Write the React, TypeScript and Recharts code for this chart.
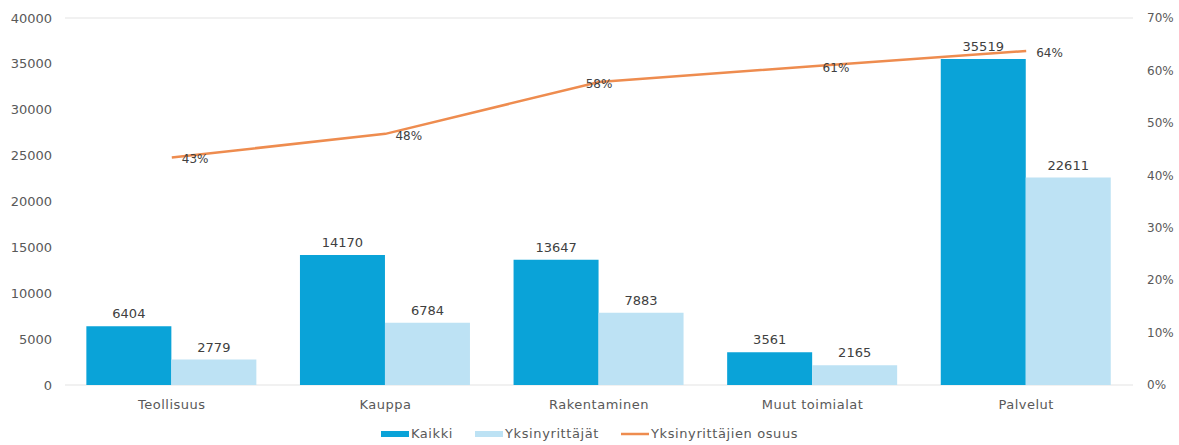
import { ComposedChart, Bar, Line, XAxis, YAxis, CartesianGrid, Legend, LabelList } from 'recharts';

const categories = ['Teollisuus', 'Kauppa', 'Rakentaminen', 'Muut toimialat', 'Palvelut'];
const kaikki = [6404, 14170, 13647, 3561, 35519];
const yksinyrittajat = [2779, 6784, 7883, 2165, 22611];
const osuus = [0.434, 0.479, 0.578, 0.608, 0.637];
const leftTicks = [0, 5000, 10000, 15000, 20000, 25000, 30000, 35000, 40000];
const rightTicks = [0, 0.1, 0.2, 0.3, 0.4, 0.5, 0.6, 0.7];
const seriesNames = ['Kaikki', 'Yksinyrittäjät', 'Yksinyrittäjien osuus'];

const data = categories.map((name, i) => ({
  name,
  kaikki: kaikki[i],
  yksin: yksinyrittajat[i],
  osuus: osuus[i],
}));

const FONT = '"DejaVu Sans", sans-serif';
const TXT = '#404040';

const pctLabel = (props: any) => {
  const { x, y, value, index } = props;
  const centered = index === 2;
  return (
    <text x={centered ? x : x + 10} y={y + 2} textAnchor={centered ? 'middle' : 'start'}
      dominantBaseline="central" fontSize={12} fontFamily={FONT} fill={TXT}>
      {Math.round(value * 100)}%
    </text>
  );
};

const legendContent = (props: any) => {
  const items = [...props.payload].sort(
    (a: any, b: any) => seriesNames.indexOf(a.value) - seriesNames.indexOf(b.value));
  return (
    <div style={{ display: 'flex', justifyContent: 'center', gap: 22, paddingTop: 1, fontFamily: FONT,
      fontSize: 13, letterSpacing: 0.6, color: '#595959' }}>
      {items.map((p: any) => (
        <div key={p.value} style={{ display: 'flex', alignItems: 'center', gap: 2 }}>
          <svg width={28} height={8}>
            {p.type === 'line'
              ? <line x1={0} x2={28} y1={4} y2={4} stroke={p.color} strokeWidth={2.5} />
              : <rect x={0} y={1} width={28} height={6} fill={p.color} />}
          </svg>
          <span>{p.value}</span>
        </div>
      ))}
    </div>
  );
};

export default function App() {
  return (
    <div style={{ position: 'absolute', left: 0, top: 0, background: '#fff' }}>
      <ComposedChart width={1179} height={445} data={data} barGap={0} barCategoryGap="10%"
        margin={{ top: 18, right: 0, bottom: 0, left: 0 }}>
        <CartesianGrid vertical={false} stroke="#e3e3e3" />
        <XAxis dataKey="name" tickLine={false} axisLine={false} height={40} tickMargin={9}
          tick={{ fontSize: 13, fontFamily: FONT, fill: '#595959', letterSpacing: 0.5 }} />
        <YAxis yAxisId="left" domain={[0, 40000]} ticks={leftTicks} width={65} tickLine={false}
          axisLine={false} tickMargin={7} tick={{ fontSize: 13, fontFamily: FONT, fill: '#595959' }} />
        <YAxis yAxisId="right" orientation="right" domain={[0, 0.7]} ticks={rightTicks} width={46}
          tickLine={false} axisLine={false} tickMargin={8}
          tickFormatter={(v: number) => `${Math.round(v * 100)}%`}
          tick={{ fontSize: 12, fontFamily: FONT, fill: '#595959' }} />
        <Legend verticalAlign="bottom" height={20} content={legendContent} />
        <Bar yAxisId="left" dataKey="kaikki" name="Kaikki" fill="#0AA3D8" isAnimationActive={false}>
          <LabelList dataKey="kaikki" position="top" offset={8} fill={TXT} fontSize={13} fontFamily={FONT} />
        </Bar>
        <Bar yAxisId="left" dataKey="yksin" name="Yksinyrittäjät" fill="#BDE2F4" isAnimationActive={false}>
          <LabelList dataKey="yksin" position="top" offset={8} fill={TXT} fontSize={13} fontFamily={FONT} />
        </Bar>
        <Line yAxisId="right" dataKey="osuus" name="Yksinyrittäjien osuus" type="linear" stroke="#EE8C4F"
          strokeWidth={2.5} dot={false} legendType="line" isAnimationActive={false}>
          <LabelList dataKey="osuus" content={pctLabel} />
        </Line>
      </ComposedChart>
    </div>
  );
}
